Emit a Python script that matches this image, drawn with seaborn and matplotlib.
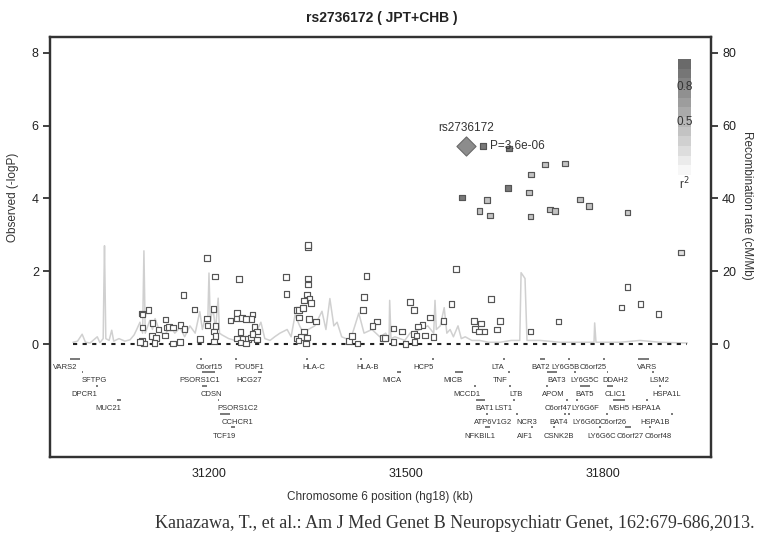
import numpy as np
import pandas as pd
import matplotlib
matplotlib.use("Agg")
import matplotlib.pyplot as plt
import seaborn as sns
from matplotlib.colors import LinearSegmentedColormap

# ---------------- data ----------------
title = "rs2736172 ( JPT+CHB )"
index_snp = "rs2736172"
index_pos = 31591
index_logp = 5.44
index_p_text = "P=3.6e-06"

# SNPs with low LD (position kb, -logP), r2 ~ 0
low_pos = [31197, 31209, 31161, 31178, 31207, 31098, 31099, 31108, 31099, 31114,
           31123, 31113, 31119, 31134, 31136, 31139, 31145, 31133, 31157, 31163,
           31197, 31198, 31210, 31208, 31210, 31208, 31186, 31156, 31145, 31098,
           31101, 31117, 31095,
           31351, 31351, 31246, 31317, 31351, 31351, 31318, 31349, 31440, 31436,
           31434, 31353, 31355, 31345, 31334, 31337, 31343, 31337, 31352, 31363,
           31456, 31449, 31243, 31233, 31242, 31250, 31256, 31266, 31265, 31269,
           31273, 31248, 31243, 31252, 31259, 31264, 31266, 31273, 31248, 31256,
           31333, 31340, 31345, 31349, 31348, 31336, 31413, 31418, 31426, 31465,
           31629, 31506, 31512, 31569, 31536, 31557, 31603, 31643, 31614, 31525,
           31518, 31481, 31605, 31611, 31619, 31638, 31494, 31512, 31516, 31529,
           31542, 31689, 31481, 31513, 31499, 31468,
           31837, 31828, 31857, 31884, 31732, 31576]
low_logp = [2.37, 1.85, 1.35, 0.95, 0.97, 0.84, 0.81, 0.93, 0.46, 0.58,
            0.40, 0.22, 0.16, 0.68, 0.46, 0.47, 0.46, 0.24, 0.52, 0.41,
            0.70, 0.51, 0.49, 0.34, 0.22, 0.07, 0.14, 0.05, 0.01, 0.08,
            0.02, 0.03, 0.06,
            2.67, 2.72, 1.79, 1.84, 1.80, 1.64, 1.38, 1.36, 1.87, 1.29,
            0.94, 1.25, 1.13, 1.20, 0.93, 0.93, 0.99, 0.73, 0.69, 0.62,
            0.62, 0.49, 0.85, 0.65, 0.70, 0.72, 0.69, 0.81, 0.69, 0.47,
            0.34, 0.33, 0.15, 0.14, 0.14, 0.18, 0.27, 0.13, 0.04, 0.02,
            0.15, 0.20, 0.34, 0.18, 0.02, 0.10, 0.08, 0.22, 0.01, 0.17,
            1.23, 1.15, 0.93, 1.10, 0.73, 0.64, 0.64, 0.63, 0.56, 0.52,
            0.48, 0.43, 0.41, 0.34, 0.34, 0.40, 0.35, 0.27, 0.24, 0.23,
            0.19, 0.35, 0.05, 0.05, 0.00, 0.16,
            1.57, 1.01, 1.10, 0.82, 0.62, 2.06]

# SNPs in LD with the index SNP (position kb, -logP, r2)
hi_pos = [31617, 31657, 31711, 31742, 31690, 31655, 31687, 31585, 31623, 31765,
          31778, 31612, 31628, 31689, 31719, 31727, 31837, 31918]
hi_logp = [5.44, 5.37, 4.93, 4.96, 4.65, 4.29, 4.16, 4.02, 3.96, 3.97,
           3.79, 3.66, 3.53, 3.50, 3.70, 3.66, 3.61, 2.52]
hi_r2 = [0.9, 0.9, 0.4, 0.4, 0.4, 0.9, 0.4, 0.9, 0.4, 0.4,
         0.4, 0.4, 0.4, 0.4, 0.4, 0.4, 0.35, 0.2]

# Recombination rate (position kb, cM/Mb)
recomb_pos = [30993, 31000, 31007, 31012, 31019, 31030, 31034, 31039, 31040, 31041,
              31043, 31048, 31052, 31055, 31063, 31072, 31080, 31086, 31090, 31095,
              31099, 31101, 31103, 31110, 31114, 31118, 31125, 31133, 31141, 31148,
              31156, 31163, 31171, 31179, 31186, 31190, 31194, 31198, 31200, 31202,
              31206, 31210, 31214, 31216, 31220, 31230, 31240, 31250, 31262, 31270,
              31279, 31285, 31293, 31300, 31308, 31319, 31325, 31331, 31338, 31345,
              31351, 31361, 31372, 31378, 31384, 31390, 31395, 31402, 31415, 31422,
              31428, 31436, 31448, 31460, 31469, 31474, 31475, 31477, 31483, 31498,
              31506, 31521, 31533, 31542, 31544, 31546, 31552, 31558, 31562, 31567,
              31572, 31579, 31584, 31590, 31600, 31612, 31625, 31643, 31660, 31673,
              31675, 31681, 31684, 31704, 31734, 31765, 31786, 31787, 31789, 31826,
              31856, 31886, 31928]
recomb_rate = [0.5, 0.8, 2.7, 0.5, 0.3, 2.0, 0.4, 1.5, 15.0, 27.0,
               1.5, 1.0, 3.8, 0.8, 1.5, 0.8, 1.2, 2.5, 4.0, 6.0,
               3.0, 25.6, 3.0, 6.5, 4.0, 7.0, 3.5, 2.5, 5.0, 3.0,
               4.5, 2.0, 5.0, 3.0, 8.9, 4.0, 7.0, 5.0, 19.5, 6.0,
               10.0, 4.0, 12.6, 3.0, 2.5, 1.5, 1.0, 2.0, 1.0, 2.5,
               6.0, 1.5, 1.0, 2.0, 3.0, 4.0, 2.0, 8.0, 5.0, 2.5,
               4.0, 5.0, 9.0, 4.0, 12.5, 5.0, 6.0, 2.0, 1.0, 5.0,
               8.5, 3.0, 4.0, 2.0, 3.0, 1.0, 12.0, 1.5, 2.0, 1.0,
               3.0, 4.0, 5.0, 3.0, 12.0, 4.0, 5.0, 10.0, 3.0, 4.0,
               2.0, 5.0, 1.5, 2.0, 1.0, 1.0, 0.5, 0.5, 1.0, 1.0,
               19.6, 18.0, 1.0, 1.0, 0.5, 0.5, 0.5, 5.8, 0.5, 0.5,
               1.0, 0.5, 0.3]

# Genes
gene_names = ["VARS2", "SFTPG", "DPCR1", "MUC21", "C6orf15", "PSORS1C1", "CDSN",
              "PSORS1C2", "CCHCR1", "TCF19", "POU5F1", "HCG27", "HLA-C", "HLA-B",
              "MICA", "HCP5", "MICB", "MCCD1", "BAT1", "LTA", "TNF", "LTB", "LST1",
              "ATP6V1G2", "NFKBIL1", "NCR3", "AIF1", "BAT2", "LY6G5B", "C6orf25",
              "VARS", "BAT3", "LY6G5C", "DDAH2", "LSM2", "APOM", "BAT5", "CLIC1",
              "HSPA1L", "C6orf47", "LY6G6F", "MSH5", "HSPA1A", "BAT4", "LY6G6D",
              "C6orf26", "HSPA1B", "CSNK2B", "LY6G6C", "C6orf27", "C6orf48"]
gene_start = [30989, 31006, 31028, 31060, 31187, 31189, 31190, 31213, 31217, 31233,
              31240, 31275, 31347, 31430, 31486, 31540, 31574, 31604, 31606, 31647,
              31655, 31657, 31663, 31622, 31620, 31667, 31690, 31704, 31746, 31799,
              31853, 31714, 31756, 31805, 31875, 31713, 31765, 31806, 31885, 31743,
              31758, 31815, 31865, 31741, 31746, 31804, 31903, 31723, 31794, 31833,
              31869]
gene_end = [31003, 31009, 31031, 31066, 31190, 31209, 31197, 31216, 31232, 31240,
            31243, 31280, 31350, 31433, 31493, 31543, 31587, 31607, 31620, 31650,
            31658, 31660, 31666, 31625, 31628, 31670, 31693, 31711, 31749, 31802,
            31869, 31729, 31759, 31808, 31878, 31716, 31780, 31815, 31888, 31746,
            31761, 31833, 31868, 31744, 31749, 31807, 31906, 31726, 31797, 31843,
            31872]
gene_row = [1, 2, 3, 4, 1, 2, 3, 4, 5, 6, 1, 2, 1, 1, 2, 1, 2, 3, 4, 1, 2, 3, 4,
            5, 6, 5, 6, 1, 1, 1, 1, 2, 2, 2, 2, 3, 3, 3, 3, 4, 4, 4, 4, 5, 5, 5,
            5, 6, 6, 6, 6]
gene_label_x = [30981, 31025, 31011, 31047, 31200, 31186, 31203, 31243, 31243, 31224,
                31261, 31261, 31360, 31441, 31478, 31526, 31572, 31592, 31620, 31640,
                31643, 31668, 31648, 31633, 31612, 31684, 31681, 31705, 31742, 31784,
                31866, 31729, 31772, 31818, 31885, 31724, 31772, 31818, 31897, 31731,
                31772, 31824, 31866, 31732, 31775, 31815, 31879, 31732, 31798, 31841,
                31883]

x_ticks = [31200, 31500, 31800]
y_ticks = [0, 2, 4, 6, 8]
recomb_ticks = [0, 20, 40, 60, 80]
zero_line = (30993, 31928)
caption = "Kanazawa, T., et al.: Am J Med Genet B Neuropsychiatr Genet, 162:679-686,2013."

# ---------------- plot ----------------
sns.set_theme(style="white")
plt.rcParams['font.family'] = ['Liberation Sans', 'DejaVu Sans']

dark = "#333333"
cmap = LinearSegmentedColormap.from_list("ld", ["#ffffff", "#6a6a6a"])

fig = plt.figure(figsize=(7.57, 5.34), dpi=100)
ax = fig.add_axes([0.066, 0.1442, 0.8732, 0.7865])
ax2 = ax.twinx()
ax.set_zorder(ax2.get_zorder() + 1)
ax.patch.set_visible(False)

ylim = (-3.1, 8.43)
ax.set_xlim(30958, 31964)
ax.set_ylim(*ylim)
ax2.set_ylim(ylim[0] * 10, ylim[1] * 10)

rec = pd.DataFrame({"pos": recomb_pos, "rate": recomb_rate})
sns.lineplot(data=rec, x="pos", y="rate", ax=ax2, color="#d0d0d0", lw=1.1,
             sort=False, estimator=None)

ax.hlines(0, zero_line[0], zero_line[1], colors="#222222", linestyles=(0, (2, 2.6)),
          lw=1.5, zorder=1)

snps = pd.DataFrame({"pos": low_pos + hi_pos, "logp": low_logp + hi_logp,
                     "r2": [0.0] * len(low_pos) + hi_r2})
sns.scatterplot(data=snps, x="pos", y="logp", hue="r2", palette=cmap, hue_norm=(0, 1),
                marker="s", s=16, edgecolor="#555555", linewidth=0.85, legend=False,
                ax=ax, zorder=3)
idx = pd.DataFrame({"pos": [index_pos], "logp": [index_logp]})
sns.scatterplot(data=idx, x="pos", y="logp", marker="D", s=95, color="#8c8c8c",
                edgecolor="#6a6a6a", linewidth=0.8, legend=False, ax=ax, zorder=4)
ax.text(index_pos, index_logp + 0.32, index_snp, ha="center", va="bottom",
        fontsize=8.5, color=dark)
ax.text(index_pos + 37, index_logp, index_p_text, ha="left", va="center",
        fontsize=8.5, color=dark, zorder=5)

# genes
row_y0, row_step, lab_off = -0.40, 0.378, 0.235
for name, s0, e0, r, lx in zip(gene_names, gene_start, gene_end, gene_row, gene_label_x):
    yy = row_y0 - row_step * (r - 1)
    ax.hlines(yy, s0, e0, colors="#555555", lw=1.1)
    ax.text(lx, yy - lab_off, name, ha="center", va="center", fontsize=5.5, color=dark)

# axes styling
ax.set_xticks(x_ticks)
ax.set_yticks(y_ticks)
ax2.set_yticks(recomb_ticks)
ax.set_xlabel("")
ax.set_ylabel("")
ax2.set_ylabel("")
for a in (ax, ax2):
    for sp in a.spines.values():
        sp.set_color(dark)
        sp.set_linewidth(1.6)
    a.tick_params(direction="out", length=5, width=1.3, color=dark,
                  labelsize=9, labelcolor="#222222", pad=3)
ax.grid(False)
ax2.grid(False)

fig.text(0.505, 0.966, title, ha="center", va="center", fontsize=10,
         fontweight="bold", color="#222222")
fig.text(0.017, 0.63, "Observed (-logP)", rotation=90, ha="center", va="center",
         fontsize=8.5, color=dark)
fig.text(0.987, 0.615, "Recombination rate (cM/Mb)", rotation=270, ha="center",
         va="center", fontsize=8.5, color=dark)
fig.text(0.502, 0.069, "Chromosome 6 position (hg18) (kb)", ha="center", va="center",
         fontsize=8.5, color=dark)

# r2 legend bar
cax = fig.add_axes([678 / 757, 1 - 175 / 534, 13 / 757, 116 / 534])
steps = np.linspace(0.05, 1.0, 12).reshape(-1, 1)
cax.imshow(steps, cmap=cmap, vmin=0, vmax=1, aspect="auto", origin="lower",
           extent=(0, 1, 0, 1))
cax.set_axis_off()
cax.text(0.5, 0.76, "0.8", ha="center", va="center", fontsize=8.5, color=dark)
cax.text(0.5, 0.46, "0.5", ha="center", va="center", fontsize=8.5, color=dark)
cax.text(0.45, -0.08, "r$^2$", ha="center", va="center", fontsize=8.5, color=dark)

fig.text(155 / 757, 1 - 523 / 534, caption, ha="left", va="center", fontsize=13,
         family=["Liberation Serif", "DejaVu Serif"], color="#333333")

fig.savefig("out.png", dpi=100)
